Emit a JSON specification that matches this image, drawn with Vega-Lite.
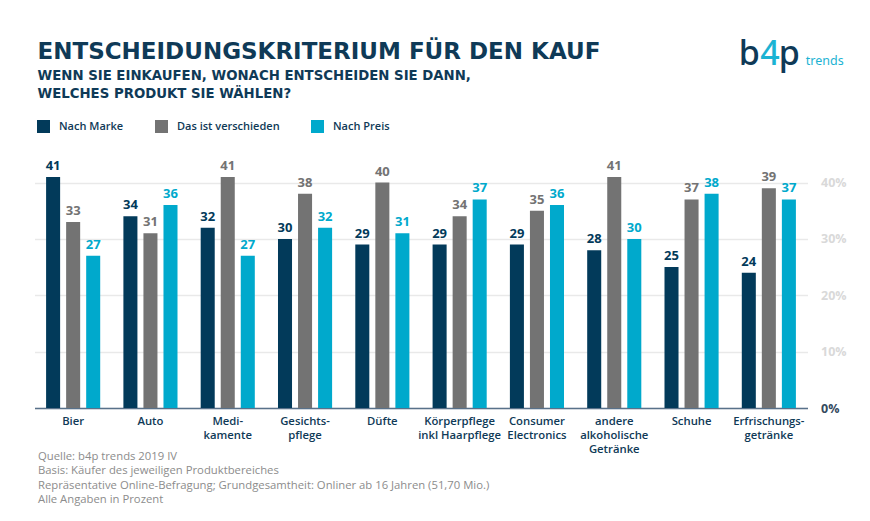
{
  "$schema": "https://vega.github.io/schema/vega-lite/v6.json",
  "width": 773,
  "height": 248,
  "autosize": {"type": "none"},
  "padding": {"left": 34.5, "top": 160, "right": 62.5, "bottom": 113},
  "background": "white",
  "config": {"view": {"stroke": null}, "font": "Open Sans"},
  "title": {
    "text": "ENTSCHEIDUNGSKRITERIUM FÜR DEN KAUF",
    "subtitle": ["WENN SIE EINKAUFEN, WONACH ENTSCHEIDEN SIE DANN,", "WELCHES PRODUKT SIE WÄHLEN?"],
    "anchor": "start",
    "frame": "group",
    "font": "DejaVu Sans",
    "fontSize": 23,
    "fontWeight": "bold",
    "color": "#0f3a57",
    "subtitleFont": "DejaVu Sans",
    "subtitleFontSize": 13.3,
    "subtitleFontWeight": "bold",
    "subtitleColor": "#0f3a57",
    "subtitleLineHeight": 18,
    "subtitlePadding": 5,
    "offset": -63,
    "dx": 3
  },
  "data": {
    "values": [
      {"kategorie": "Bier", "kriterium": "Nach Marke", "wert": 41},
      {"kategorie": "Bier", "kriterium": "Das ist verschieden", "wert": 33},
      {"kategorie": "Bier", "kriterium": "Nach Preis", "wert": 27},
      {"kategorie": "Auto", "kriterium": "Nach Marke", "wert": 34},
      {"kategorie": "Auto", "kriterium": "Das ist verschieden", "wert": 31},
      {"kategorie": "Auto", "kriterium": "Nach Preis", "wert": 36},
      {"kategorie": "Medi-|kamente", "kriterium": "Nach Marke", "wert": 32},
      {"kategorie": "Medi-|kamente", "kriterium": "Das ist verschieden", "wert": 41},
      {"kategorie": "Medi-|kamente", "kriterium": "Nach Preis", "wert": 27},
      {"kategorie": "Gesichts-|pflege", "kriterium": "Nach Marke", "wert": 30},
      {"kategorie": "Gesichts-|pflege", "kriterium": "Das ist verschieden", "wert": 38},
      {"kategorie": "Gesichts-|pflege", "kriterium": "Nach Preis", "wert": 32},
      {"kategorie": "Düfte", "kriterium": "Nach Marke", "wert": 29},
      {"kategorie": "Düfte", "kriterium": "Das ist verschieden", "wert": 40},
      {"kategorie": "Düfte", "kriterium": "Nach Preis", "wert": 31},
      {"kategorie": "Körperpflege|inkl Haarpflege", "kriterium": "Nach Marke", "wert": 29},
      {"kategorie": "Körperpflege|inkl Haarpflege", "kriterium": "Das ist verschieden", "wert": 34},
      {"kategorie": "Körperpflege|inkl Haarpflege", "kriterium": "Nach Preis", "wert": 37},
      {"kategorie": "Consumer|Electronics", "kriterium": "Nach Marke", "wert": 29},
      {"kategorie": "Consumer|Electronics", "kriterium": "Das ist verschieden", "wert": 35},
      {"kategorie": "Consumer|Electronics", "kriterium": "Nach Preis", "wert": 36},
      {"kategorie": "andere|alkoholische|Getränke", "kriterium": "Nach Marke", "wert": 28},
      {"kategorie": "andere|alkoholische|Getränke", "kriterium": "Das ist verschieden", "wert": 41},
      {"kategorie": "andere|alkoholische|Getränke", "kriterium": "Nach Preis", "wert": 30},
      {"kategorie": "Schuhe", "kriterium": "Nach Marke", "wert": 25},
      {"kategorie": "Schuhe", "kriterium": "Das ist verschieden", "wert": 37},
      {"kategorie": "Schuhe", "kriterium": "Nach Preis", "wert": 38},
      {"kategorie": "Erfrischungs-|getränke", "kriterium": "Nach Marke", "wert": 24},
      {"kategorie": "Erfrischungs-|getränke", "kriterium": "Das ist verschieden", "wert": 39},
      {"kategorie": "Erfrischungs-|getränke", "kriterium": "Nach Preis", "wert": 37}
    ]
  },
  "encoding": {
    "x": {
      "field": "kategorie",
      "type": "nominal",
      "scale": {
        "domain": ["Bier", "Auto", "Medi-|kamente", "Gesichts-|pflege", "Düfte", "Körperpflege|inkl Haarpflege", "Consumer|Electronics", "andere|alkoholische|Getränke", "Schuhe", "Erfrischungs-|getränke"],
        "paddingInner": 0.3,
        "paddingOuter": 0.15
      },
      "axis": {
        "orient": "bottom",
        "labelAngle": 0,
        "labelExpr": "split(datum.label, '|')",
        "labelFont": "Open Sans",
        "labelFontSize": 11.3,
        "labelFontWeight": 600,
        "labelColor": "#0f3a57",
        "labelPadding": 7,
        "labelLineHeight": 14,
        "labelBaseline": "top",
        "ticks": false,
        "domain": true,
        "domainColor": "#58718a",
        "domainWidth": 1.5,
        "title": ["Quelle: b4p trends 2019 IV", "Basis: Käufer des jeweiligen Produktbereiches", "Repräsentative Online-Befragung; Grundgesamtheit: Onliner ab 16 Jahren (51,70 Mio.)", "Alle Angaben in Prozent"],
        "titleAnchor": "start",
        "titleAlign": "left",
        "titleBaseline": "top",
        "titleFont": "Open Sans",
        "titleFontSize": 11.3,
        "titleFontWeight": "normal",
        "titleColor": "#8c8c8c",
        "titleLineHeight": 14.5,
        "titleX": 3,
        "titleY": 42
      }
    }
  },
  "layer": [
    {
      "mark": {"type": "bar"},
      "encoding": {
        "xOffset": {"field": "kriterium", "type": "nominal", "scale": {"domain": ["Nach Marke", "Das ist verschieden", "Nach Preis"], "paddingInner": 0.3, "paddingOuter": 0}},
        "y": {
          "field": "wert",
          "type": "quantitative",
          "scale": {"domain": [0, 44], "nice": false},
          "axis": {
            "orient": "right",
            "values": [0, 10, 20, 30, 40],
            "labelExpr": "datum.value + '%'",
            "labelFont": "Open Sans",
            "labelFontSize": 12.5,
            "labelFontWeight": "bold",
            "labelColor": {"condition": {"test": "datum.value === 0", "value": "#344a5e"}, "value": "#d9d9d9"},
            "labelAlign": "left",
            "labelPadding": 13,
            "grid": true,
            "gridColor": "#e9e9e9",
            "gridWidth": 1.5,
            "domain": false,
            "ticks": false,
            "title": null
          }
        },
        "color": {
          "field": "kriterium",
          "type": "nominal",
          "scale": {"domain": ["Nach Marke", "Das ist verschieden", "Nach Preis"], "range": ["#023a5a", "#737373", "#00a9cc"]},
          "legend": {
            "title": null,
            "orient": "none",
            "direction": "horizontal",
            "legendX": 2.5,
            "legendY": -40,
            "padding": 0,
            "symbolType": "square",
            "symbolSize": 169,
            "symbolStrokeWidth": 0,
            "labelFont": "Open Sans",
            "labelFontSize": 11,
            "labelFontWeight": 600,
            "labelColor": "#0f3a57",
            "labelOffset": 9,
            "columnPadding": 31
          }
        }
      }
    },
    {
      "mark": {"type": "text", "baseline": "alphabetic", "dy": -7, "font": "Open Sans", "fontSize": 13, "fontWeight": "bold"},
      "encoding": {
        "xOffset": {"field": "kriterium", "type": "nominal", "scale": {"domain": ["Nach Marke", "Das ist verschieden", "Nach Preis"], "paddingInner": 0.3, "paddingOuter": 0}},
        "y": {"field": "wert", "type": "quantitative"},
        "text": {"field": "wert", "type": "quantitative"},
        "color": {"field": "kriterium", "type": "nominal", "legend": null}
      }
    },
    {
      "data": {"values": [{"logo": "b"}]},
      "mark": {"type": "text", "baseline": "alphabetic", "align": "right", "dx": -9, "font": "Noto Sans", "fontSize": 34, "fontWeight": 500, "color": "#0f3a57"},
      "encoding": {
        "x": {"datum": "Erfrischungs-|getränke", "type": "nominal"},
        "y": {"datum": 60.9, "type": "quantitative"},
        "text": {"field": "logo"}
      }
    },
    {
      "data": {"values": [{"logo": "4"}]},
      "mark": {"type": "text", "baseline": "alphabetic", "align": "center", "dx": 1, "font": "Noto Sans", "fontSize": 34, "fontWeight": 500, "color": "#1bb3d3"},
      "encoding": {
        "x": {"datum": "Erfrischungs-|getränke", "type": "nominal"},
        "y": {"datum": 60.9, "type": "quantitative"},
        "text": {"field": "logo"}
      }
    },
    {
      "data": {"values": [{"logo": "p"}]},
      "mark": {"type": "text", "baseline": "alphabetic", "align": "left", "dx": 10, "font": "Noto Sans", "fontSize": 34, "fontWeight": 500, "color": "#0f3a57"},
      "encoding": {
        "x": {"datum": "Erfrischungs-|getränke", "type": "nominal"},
        "y": {"datum": 60.9, "type": "quantitative"},
        "text": {"field": "logo"}
      }
    },
    {
      "data": {"values": [{"logo": "trends"}]},
      "mark": {"type": "text", "baseline": "alphabetic", "align": "left", "dx": 37, "font": "Noto Sans", "fontSize": 12.5, "fontWeight": "normal", "color": "#1bb3d3"},
      "encoding": {
        "x": {"datum": "Erfrischungs-|getränke", "type": "nominal"},
        "y": {"datum": 60.9, "type": "quantitative"},
        "text": {"field": "logo"}
      }
    }
  ]
}
